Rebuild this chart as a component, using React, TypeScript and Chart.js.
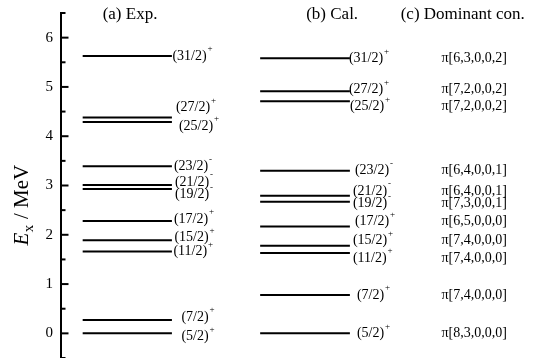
import React, { useEffect, useRef } from "react";
import { Chart, registerables } from "chart.js";

Chart.register(...registerables);

// ---- data ----
const spins = ["(5/2)", "(7/2)", "(11/2)", "(15/2)", "(17/2)", "(19/2)", "(21/2)", "(23/2)", "(25/2)", "(27/2)", "(31/2)"];
const parities = ["+", "+", "+", "+", "+", "-", "-", "-", "+", "+", "+"];
const expEnergies = [0, 0.27, 1.66, 1.89, 2.28, 2.93, 3.01, 3.39, 4.29, 4.38, 5.63];
const calEnergies = [0, 0.78, 1.63, 1.78, 2.17, 2.67, 2.79, 3.3, 4.71, 4.91, 5.58];
const configs = [
  "π[8,3,0,0,0]",
  "π[7,4,0,0,0]",
  "π[7,4,0,0,0]",
  "π[7,4,0,0,0]",
  "π[6,5,0,0,0]",
  "π[7,3,0,0,1]",
  "π[6,4,0,0,1]",
  "π[6,4,0,0,1]",
  "π[7,2,0,0,2]",
  "π[7,2,0,0,2]",
  "π[6,3,0,0,2]",
];
const yTicks = [0, 1, 2, 3, 4, 5, 6];
const headings = ["(a) Exp.", "(b) Cal.", "(c) Dominant con."];

// ---- layout (x in scale units 0..100) ----
const EXP_X = [4.6, 22.7];
const CAL_X = [40.6, 58.8];
const HEAD_X = [14.2, 55.2, 81.7];
const CONF_X = 84.0;
const expDx = [9.5, 9.5, 1.5, 2.5, 2, 3, 3, 2, 7, 4, 0.5];
const expDy = [3, -3, 0, -3, -2, 5.5, -3, 0, 4, -10, 0];
const calDx = [7, 7, 3, 3, 5, 3, 3, 5, 0, -1, -1];
const calDy = [0, 0, 5, -5, -5, 2, -5, 0, 5, -2, 0];

const SERIF = "'Liberation Serif', 'Times New Roman', serif";

function drawSpin(ctx: CanvasRenderingContext2D, x: number, y: number, spin: string, parity: string) {
  ctx.font = `14px ${SERIF}`;
  ctx.textAlign = "left";
  ctx.textBaseline = "middle";
  ctx.fillText(spin, x, y);
  const w = ctx.measureText(spin).width;
  ctx.font = `9px ${SERIF}`;
  ctx.fillText(parity, x + w + 1, y - 7);
}

const overlay = {
  id: "levelOverlay",
  afterDatasetsDraw(chart: any) {
    const ctx: CanvasRenderingContext2D = chart.ctx;
    const xs = chart.scales.x;
    const ys = chart.scales.y;
    const ax = chart.chartArea.left + 1;
    ctx.save();
    ctx.fillStyle = "#000";
    ctx.strokeStyle = "#000";
    // axis line
    ctx.lineWidth = 2;
    ctx.beginPath();
    ctx.moveTo(ax, ys.getPixelForValue(6.5) - 1);
    ctx.lineTo(ax, ys.getPixelForValue(-0.5) + 2);
    ctx.stroke();
    // major ticks
    yTicks.forEach((v) => {
      const py = ys.getPixelForValue(v);
      ctx.beginPath();
      ctx.moveTo(ax, py);
      ctx.lineTo(ax + 7.5, py);
      ctx.stroke();
    });
    // minor ticks
    for (let v = -0.5; v <= 6.5; v += 1) {
      const py = ys.getPixelForValue(v);
      ctx.beginPath();
      ctx.moveTo(ax, py);
      ctx.lineTo(ax + 4.5, py);
      ctx.stroke();
    }
    // y title: E_x / MeV rotated
    ctx.save();
    ctx.translate(28, ys.getPixelForValue(2.6));
    ctx.rotate(-Math.PI / 2);
    ctx.textBaseline = "alphabetic";
    ctx.textAlign = "left";
    ctx.font = `italic 21px ${SERIF}`;
    const wE = ctx.measureText("E").width;
    ctx.font = `15px ${SERIF}`;
    const wx = ctx.measureText("x").width;
    ctx.font = `21px ${SERIF}`;
    const rest = " / MeV";
    const wr = ctx.measureText(rest).width;
    const total = wE + wx + wr + 1;
    let cx = -total / 2;
    ctx.font = `italic 21px ${SERIF}`;
    ctx.fillText("E", cx, 0);
    cx += wE + 0.5;
    ctx.font = `15px ${SERIF}`;
    ctx.fillText("x", cx, 5);
    cx += wx + 0.5;
    ctx.font = `21px ${SERIF}`;
    ctx.fillText(rest, cx, 0);
    ctx.restore();
    // headings
    ctx.font = `17px ${SERIF}`;
    ctx.textAlign = "center";
    ctx.textBaseline = "middle";
    headings.forEach((h, i) => {
      ctx.fillText(h, xs.getPixelForValue(HEAD_X[i]), chart.chartArea.top + 2);
    });
    // level labels
    const expEnd = xs.getPixelForValue(EXP_X[1]);
    const calEnd = xs.getPixelForValue(CAL_X[1]);
    spins.forEach((s, i) => {
      drawSpin(ctx, expEnd + expDx[i], ys.getPixelForValue(expEnergies[i]) + expDy[i], s, parities[i]);
      drawSpin(ctx, calEnd + calDx[i], ys.getPixelForValue(calEnergies[i]) + calDy[i], s, parities[i]);
      ctx.font = `14px ${SERIF}`;
      ctx.textAlign = "center";
      ctx.textBaseline = "middle";
      ctx.fillText(configs[i], xs.getPixelForValue(CONF_X), ys.getPixelForValue(calEnergies[i]) + calDy[i]);
    });
    ctx.restore();
  },
};

export default function App() {
  const ref = useRef<HTMLCanvasElement>(null);
  useEffect(() => {
    if (!ref.current) return;
    const datasets: any[] = [];
    expEnergies.forEach((e) => {
      datasets.push({
        data: [
          { x: EXP_X[0], y: e },
          { x: EXP_X[1], y: e },
        ],
        borderColor: "#000",
        borderWidth: 2,
        pointRadius: 0,
        fill: false,
      });
    });
    calEnergies.forEach((e) => {
      datasets.push({
        data: [
          { x: CAL_X[0], y: e },
          { x: CAL_X[1], y: e },
        ],
        borderColor: "#000",
        borderWidth: 2,
        pointRadius: 0,
        fill: false,
      });
    });
    const chart = new Chart(ref.current, {
      type: "line",
      data: { datasets },
      plugins: [overlay],
      options: {
        animation: false,
        responsive: false,
        devicePixelRatio: 1,
        layout: { padding: { top: 13, bottom: 0, left: 0, right: 0 } },
        plugins: { legend: { display: false }, tooltip: { enabled: false }, title: { display: false } },
        scales: {
          x: { type: "linear", min: 0, max: 100, display: false },
          y: {
            type: "linear",
            min: -0.5,
            max: 6.5,
            afterBuildTicks: (scale: any) => {
              scale.ticks = yTicks.map((v) => ({ value: v }));
            },
            afterFit: (scale: any) => {
              scale.width = 60;
              scale.paddingTop = 0;
              scale.paddingBottom = 0;
            },
            grid: { display: false, drawTicks: false },
            border: { display: false },
            ticks: {
              color: "#000",
              padding: 7,
              font: { family: SERIF, size: 15 },
              callback: (v: any) => String(v),
            },
          },
        },
      },
    });
    return () => chart.destroy();
  }, []);
  return (
    <div style={{ position: "absolute", left: 0, top: 0, width: 553, height: 358, background: "#fff" }}>
      <canvas ref={ref} width={553} height={358} style={{ display: "block" }} />
    </div>
  );
}
